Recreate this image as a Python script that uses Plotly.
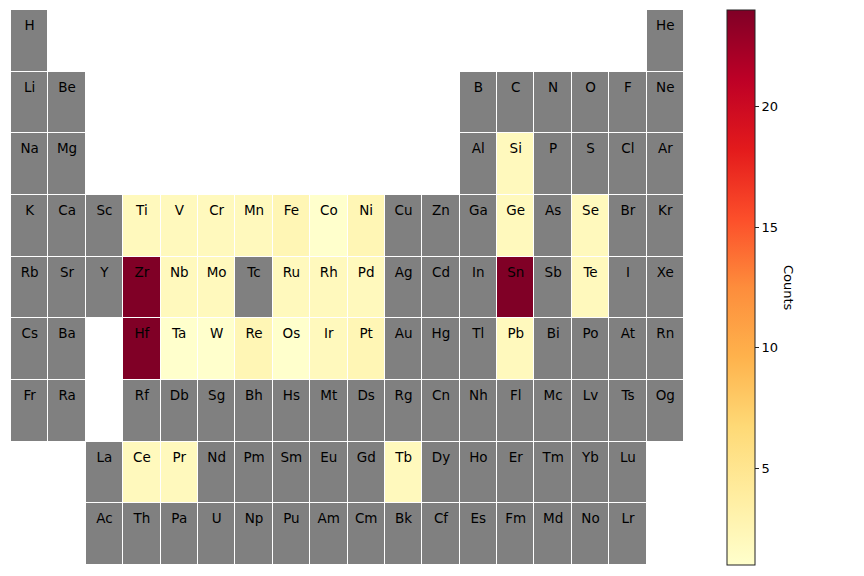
import plotly.graph_objects as go
import numpy as np

# Periodic-table layout (row by row, None = empty position)
table_rows = [
    ["H"] + [None] * 16 + ["He"],
    ["Li", "Be"] + [None] * 10 + ["B", "C", "N", "O", "F", "Ne"],
    ["Na", "Mg"] + [None] * 10 + ["Al", "Si", "P", "S", "Cl", "Ar"],
    ["K", "Ca", "Sc", "Ti", "V", "Cr", "Mn", "Fe", "Co", "Ni", "Cu", "Zn", "Ga", "Ge", "As", "Se", "Br", "Kr"],
    ["Rb", "Sr", "Y", "Zr", "Nb", "Mo", "Tc", "Ru", "Rh", "Pd", "Ag", "Cd", "In", "Sn", "Sb", "Te", "I", "Xe"],
    ["Cs", "Ba", None, "Hf", "Ta", "W", "Re", "Os", "Ir", "Pt", "Au", "Hg", "Tl", "Pb", "Bi", "Po", "At", "Rn"],
    ["Fr", "Ra", None, "Rf", "Db", "Sg", "Bh", "Hs", "Mt", "Ds", "Rg", "Cn", "Nh", "Fl", "Mc", "Lv", "Ts", "Og"],
    [None, None, "La", "Ce", "Pr", "Nd", "Pm", "Sm", "Eu", "Gd", "Tb", "Dy", "Ho", "Er", "Tm", "Yb", "Lu", None],
    [None, None, "Ac", "Th", "Pa", "U", "Np", "Pu", "Am", "Cm", "Bk", "Cf", "Es", "Fm", "Md", "No", "Lr", None],
]

# Counts per element (others have no data -> gray)
count_symbols = ["Ti", "V", "Cr", "Mn", "Fe", "Co", "Ni",
                 "Zr", "Nb", "Mo", "Ru", "Rh", "Pd",
                 "Hf", "Ta", "W", "Re", "Os", "Ir", "Pt",
                 "Si", "Ge", "Se", "Sn", "Te", "Pb",
                 "Ce", "Pr", "Tb"]
count_values = [2, 2, 2, 2, 2.5, 1, 2.5,
                24, 2, 2, 2, 2, 2,
                24, 1, 1, 2.5, 1, 2, 2.5,
                2, 2, 2, 24, 2, 2,
                2, 2, 2]

counts = dict(zip(count_symbols, count_values))

n_rows = len(table_rows)
n_cols = 18
cols = list(range(1, n_cols + 1))
rows = list(range(1, n_rows + 1))

z_gray = np.full((n_rows, n_cols), np.nan)
z_val = np.full((n_rows, n_cols), np.nan)
tx, ty, tt = [], [], []
for r, row in enumerate(table_rows):
    for c, sym in enumerate(row):
        if sym is None:
            continue
        z_gray[r, c] = 0
        if sym in counts:
            z_val[r, c] = counts[sym]
        tx.append(c + 1)
        ty.append(r + 1 - 0.23)
        tt.append(sym)

ylorrd = ["#ffffcc", "#ffeda0", "#fed976", "#feb24c", "#fd8d3c",
          "#fc4e2a", "#e31a1c", "#bd0026", "#800026"]
cscale = [[i / (len(ylorrd) - 1), c] for i, c in enumerate(ylorrd)]

fig = go.Figure()
fig.add_trace(go.Heatmap(
    x=cols, y=rows, z=z_gray,
    colorscale=[[0, "#808080"], [1, "#808080"]],
    showscale=False, xgap=1, ygap=1, hoverinfo="skip",
))
fig.add_trace(go.Heatmap(
    x=cols, y=rows, z=z_val, zmin=1, zmax=24,
    colorscale=cscale, xgap=1, ygap=1,
    colorbar=dict(
        x=(727 - 11) / 673, xanchor="left", xref="paper",
        y=0.5, yanchor="middle", len=1, lenmode="fraction",
        thickness=28, thicknessmode="pixels",
        outlinecolor="#222222", outlinewidth=1,
        ticks="outside", ticklen=4, tickwidth=1, tickcolor="#222222",
        tickvals=[5, 10, 15, 20],
        tickfont=dict(family="DejaVu Sans", size=13, color="black"),
        xpad=0, ypad=0,
    ),
))
fig.add_trace(go.Scatter(
    x=tx, y=ty, text=tt, mode="text",
    textfont=dict(family="DejaVu Sans", size=13.5, color="black"),
    hoverinfo="skip", showlegend=False,
))

fig.add_annotation(
    x=(798 - 11) / 673, y=0.5, xref="paper", yref="paper",
    text="Counts", textangle=90, showarrow=False,
    font=dict(family="DejaVu Sans", size=13, color="black"),
)

fig.update_xaxes(range=[0.5, 18.5], visible=False)
fig.update_yaxes(range=[9.5, 0.5], visible=False)
fig.update_layout(
    width=864, height=576,
    margin=dict(l=11, r=180, t=10, b=11),
    plot_bgcolor="white", paper_bgcolor="white",
    showlegend=False,
)

fig.write_html("out.html")
